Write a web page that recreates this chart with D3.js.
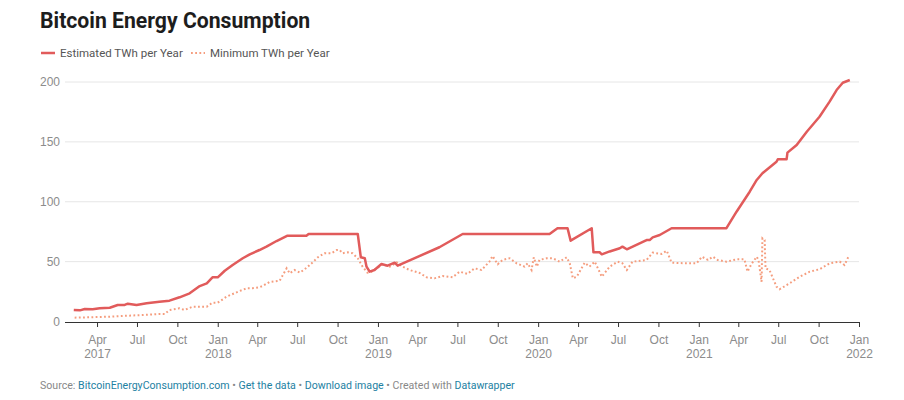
<!DOCTYPE html>
<html>
<head>
<meta charset="utf-8">
<script src="https://cdn.jsdelivr.net/npm/d3@7"></script>
<style>
  body { margin: 0; background: #fff; font-family: Roboto, "Noto Sans", sans-serif; }
  .grid line { stroke: #e6e6e6; }
  .axis text { fill: #8c8c8c; font-size: 12px; }
</style>
</head>
<body>
<div id="chart"></div>
<script>
// values (TWh per year)
var estDates = ["2017-02-07","2017-02-21","2017-03-04","2017-03-22","2017-04-07","2017-04-30","2017-05-18","2017-06-03","2017-06-10","2017-06-30",
  "2017-07-23","2017-08-21","2017-09-13","2017-10-06","2017-10-29","2017-11-21","2017-12-07","2017-12-20","2018-01-01","2018-01-17",
  "2018-02-04","2018-02-27","2018-03-15","2018-04-06","2018-04-22","2018-05-15","2018-06-09","2018-07-22","2018-07-27","2018-11-16",
  "2018-11-23","2018-12-02","2018-12-06","2018-12-13","2018-12-24","2019-01-09","2019-01-23","2019-02-08","2019-02-15","2019-05-21",
  "2019-07-13","2020-01-27","2020-02-14","2020-03-08","2020-03-15","2020-05-02","2020-05-06","2020-05-20","2020-05-25","2020-06-12",
  "2020-07-05","2020-07-11","2020-07-21","2020-09-04","2020-09-11","2020-09-18","2020-10-04","2020-10-31","2021-03-05","2021-03-28",
  "2021-04-27","2021-05-13","2021-05-26","2021-06-27","2021-06-30","2021-07-20","2021-07-22","2021-08-12","2021-09-04","2021-10-03",
  "2021-10-26","2021-11-11","2021-11-25","2021-12-11"];
var estValues = [9.6,9.3,10.4,10.2,11,11.5,13.8,13.8,14.9,13.8,
  15.2,16.5,17.4,20.2,23.5,29.6,31.9,36.9,36.9,42.4,
  47.2,52.8,56.1,59.7,62.5,67.2,71.7,71.7,73.1,73.1,
  53.6,52.8,45.8,41.6,43,48,46.6,49.1,46.6,62,
  73.1,73.1,77.9,77.9,67.5,77.9,57.8,57.8,56.1,58.5,
  61.2,62.5,60.3,68,68,70.3,72.2,77.9,77.9,91.7,
  108.4,118.2,123.8,133.4,135.4,135.4,141,147.4,158.5,171,
  183.6,193.3,199.4,201.7];

var minDates = ["2017-02-09","2017-04-30","2017-06-07","2017-07-14","2017-08-21","2017-09-02","2017-09-13","2017-10-06","2017-10-17","2017-11-05",
  "2017-12-07","2017-12-20","2018-01-01","2018-01-21","2018-02-20","2018-03-08","2018-03-21","2018-04-06","2018-04-13","2018-04-29",
  "2018-05-22","2018-06-07","2018-06-14","2018-06-25","2018-07-07","2018-07-18","2018-08-03","2018-08-17","2018-09-01","2018-09-17",
  "2018-09-29","2018-10-06","2018-10-12","2018-10-24","2018-11-04","2018-11-16","2018-11-27","2018-12-08","2018-12-18","2018-12-29",
  "2019-01-12","2019-01-28","2019-02-13","2019-02-26","2019-03-14","2019-04-06","2019-04-22","2019-05-10","2019-05-28","2019-06-20",
  "2019-07-06","2019-07-24","2019-08-09","2019-08-25","2019-09-12","2019-09-19","2019-10-01","2019-10-12","2019-10-28","2019-11-13",
  "2019-12-01","2019-12-08","2019-12-17","2019-12-22","2019-12-29","2020-01-04","2020-01-20","2020-02-03","2020-02-19","2020-03-06",
  "2020-03-13","2020-03-20","2020-03-29","2020-04-16","2020-04-27","2020-05-09","2020-05-25","2020-06-12","2020-06-30","2020-07-11",
  "2020-07-21","2020-08-03","2020-09-04","2020-09-18","2020-10-08","2020-10-20","2020-10-31","2020-12-04","2020-12-27","2021-01-08",
  "2021-01-22","2021-02-02","2021-02-13","2021-03-05","2021-03-28","2021-04-15","2021-04-22","2021-05-01","2021-05-13","2021-05-17",
  "2021-05-24","2021-05-26","2021-05-31","2021-06-02","2021-06-11","2021-06-27","2021-07-04","2021-07-27","2021-08-19","2021-09-11",
  "2021-10-03","2021-10-26","2021-11-18","2021-11-29","2021-12-08"];
var minValues = [3.2,4,4.8,5.4,6.3,6.2,9.6,11,9.6,12.4,
  12.4,15.7,15.7,20.7,25.5,27.7,27.7,28.6,29.6,33,
  34,44.4,40.2,43,40.8,43.6,48.6,53.6,57,57,
  59.7,59.7,57,57.8,57,52.8,45.8,40.8,41.6,44.4,
  47.8,45.8,49.4,45.8,43,40.5,36.9,36.1,38,36.9,
  41.6,39.7,44.4,43,50,54.7,47.8,51.4,52.8,48.6,
  45.8,48.6,43,53.6,45.8,51.4,52.8,52.8,50,53.6,
  48.6,36.1,37.4,49.1,45.8,50,37.4,45.8,50,48.6,
  43,50,51.4,57.5,56.4,59.1,49.1,48.6,48.6,54.1,
  51.4,54.1,51.4,50,51.9,51.9,41.6,48,54.1,51.4,
  33.2,69.5,68,44.4,43,29.1,26.9,31.9,37.4,41.6,
  43.6,48.6,50,47.2,54.1];

var yTicks = [0, 50, 100, 150, 200];
var seriesNames = ["Estimated TWh per Year", "Minimum TWh per Year"];
var seriesColors = ["#e15b5b", "#f59d7e"];

var W = 904, H = 400;
var parse = d3.timeParse("%Y-%m-%d");
var est = estDates.map(function(d, i) { return { date: parse(d), value: estValues[i] }; });
var mn = minDates.map(function(d, i) { return { date: parse(d), value: minValues[i] }; });

var x = d3.scaleTime()
  .domain([parse("2017-01-18"), parse("2022-01-01")])
  .range([65, 859]);
var y = d3.scaleLinear().domain([0, 200]).range([321.5, 82]);

var svg = d3.select("#chart").append("svg")
  .attr("width", W)
  .attr("height", H);

// title
svg.append("text")
  .attr("x", 40)
  .attr("y", 28)
  .attr("font-size", 21.2)
  .attr("font-weight", 700)
  .attr("fill", "#1d1d1d")
  .text("Bitcoin Energy Consumption");

// legend
var legend = svg.append("g").attr("transform", "translate(40,53)");
var legX = [0, 150];
seriesNames.forEach(function(name, i) {
  var g = legend.append("g").attr("transform", "translate(" + legX[i] + ",0)");
  g.append("line")
    .attr("x1", 1).attr("x2", 15)
    .attr("stroke", seriesColors[i])
    .attr("stroke-width", i === 0 ? 2.5 : 2)
    .attr("stroke-dasharray", i === 0 ? null : "1.8,2.4");
  g.append("text")
    .attr("x", 20)
    .attr("dy", "0.35em")
    .attr("font-size", 11.5)
    .attr("fill", "#555")
    .text(name);
});

// grid + y labels
var grid = svg.append("g").attr("class", "grid");
grid.selectAll("line")
  .data(yTicks.filter(function(t) { return t > 0; }))
  .enter().append("line")
  .attr("x1", 65).attr("x2", 859)
  .attr("y1", function(d) { return y(d); })
  .attr("y2", function(d) { return y(d); });

var yaxis = svg.append("g")
  .attr("class", "axis")
  .attr("transform", "translate(60,0)")
  .call(d3.axisLeft(y).tickValues(yTicks).tickSize(0).tickPadding(0));
yaxis.select(".domain").remove();
yaxis.selectAll("text").attr("font-size", 12.5).attr("fill", "#999");

// x axis
var xTicks = x.ticks(d3.timeMonth.every(3)).filter(function(d) { return d > parse("2017-02-01"); });
var xaxis = svg.append("g")
  .attr("class", "axis")
  .attr("transform", "translate(0," + 322 + ")")
  .call(d3.axisBottom(x).tickValues(xTicks).tickSize(5).tickSizeOuter(0).tickFormat(function(d) { return ""; }));
xaxis.select(".domain").attr("stroke", "#333").attr("d", "M65,0.5H859");
xaxis.selectAll(".tick line").attr("stroke", "#333");
xaxis.selectAll(".tick").each(function(d) {
  var t = d3.select(this).select("text");
  t.text(null).attr("y", 0).attr("dy", null);
  t.append("tspan").attr("x", 0).attr("y", 21.5).text(d3.timeFormat("%b")(d));
  if (d.getMonth() === 0 || d3.timeFormat("%b %Y")(d) === "Apr 2017") {
    t.append("tspan").attr("x", 0).attr("y", 35.5).text(d3.timeFormat("%Y")(d));
  }
});

// lines
var line = d3.line()
  .x(function(d) { return x(d.date); })
  .y(function(d) { return y(d.value); });

svg.append("path")
  .datum(mn)
  .attr("fill", "none")
  .attr("stroke", seriesColors[1])
  .attr("stroke-width", 2)
  .attr("stroke-dasharray", "1.8,2.4")
  .attr("d", line);

svg.append("path")
  .datum(est)
  .attr("fill", "none")
  .attr("stroke", seriesColors[0])
  .attr("stroke-width", 2.5)
  .attr("stroke-linejoin", "round")
  .attr("d", line);

// footer
var foot = svg.append("text")
  .attr("x", 40)
  .attr("y", 389)
  .attr("font-size", 10.6)
  .attr("fill", "#888");
var parts = [["Source: ", "#888"], ["BitcoinEnergyConsumption.com", "#1d81a2"], [" • ", "#888"], ["Get the data", "#1d81a2"],
  [" • ", "#888"], ["Download image", "#1d81a2"], [" • Created with ", "#888"], ["Datawrapper", "#1d81a2"]];
parts.forEach(function(p) {
  foot.append("tspan").attr("fill", p[1]).text(p[0]);
});
</script>
</body>
</html>
